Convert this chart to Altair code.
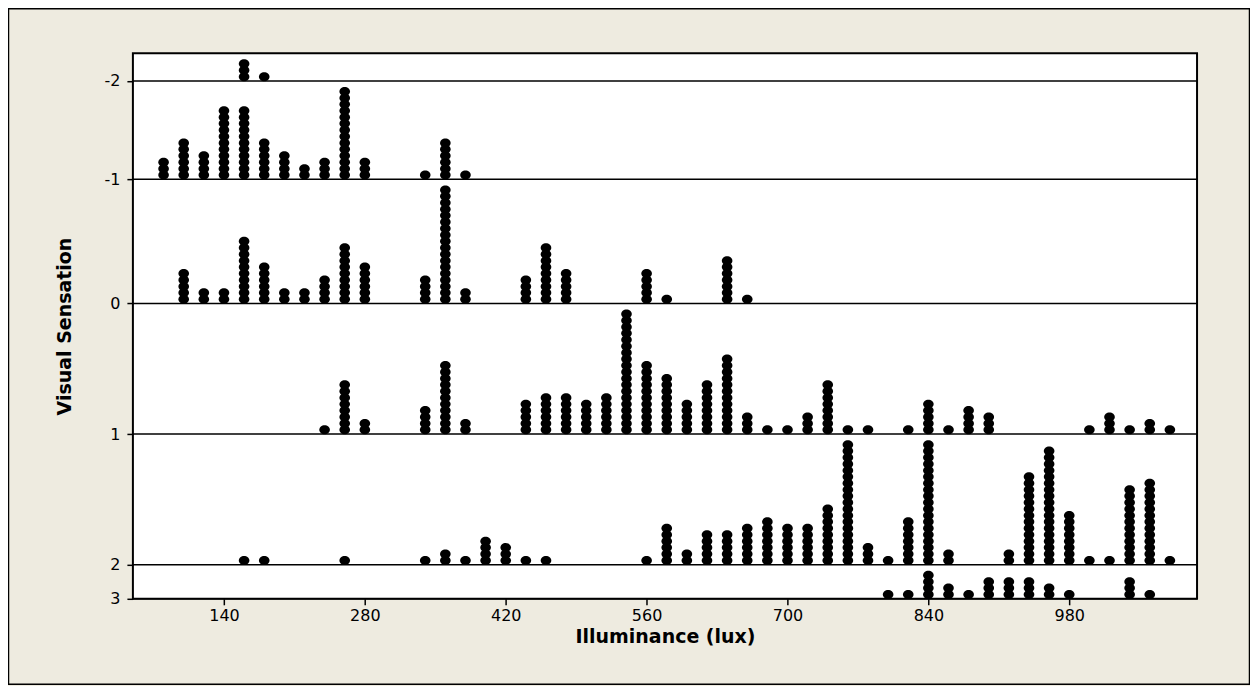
import altair as alt
import pandas as pd

# ---- data (dot counts per 20-lux bin, per sensation level) ----
levels = ["-2", "-1", "0", "1", "2", "3"]

lux_m2 = [160, 180]
cnt_m2 = [3, 1]

lux_m1 = [80, 100, 120, 140, 160, 180, 200, 220, 240, 260, 280, 340, 360, 380]
cnt_m1 = [3, 6, 4, 11, 11, 6, 4, 2, 3, 14, 3, 1, 6, 1]

lux_0 = [100, 120, 140, 160, 180, 200, 220, 240, 260, 280, 340, 360, 380, 440, 460, 480, 560, 580, 640, 660]
cnt_0 = [5, 2, 2, 10, 6, 2, 2, 4, 9, 6, 4, 18, 2, 4, 9, 5, 5, 1, 7, 1]

lux_1 = [240, 260, 280, 340, 360, 380, 440, 460, 480, 500, 520, 540, 560, 580, 600, 620, 640, 660, 680,
         700, 720, 740, 760, 780, 820, 840, 860, 880, 900, 1000, 1020, 1040, 1060, 1080]
cnt_1 = [1, 8, 2, 4, 11, 2, 5, 6, 6, 5, 6, 19, 11, 9, 5, 8, 12, 3, 1,
         1, 3, 8, 1, 1, 1, 5, 1, 4, 3, 1, 3, 1, 2, 1]

lux_2 = [160, 180, 260, 340, 360, 380, 400, 420, 440, 460, 560, 580, 600, 620, 640, 660, 680, 700, 720,
         740, 760, 780, 800, 820, 840, 860, 920, 940, 960, 980, 1000, 1020, 1040, 1060, 1080]
cnt_2 = [1, 1, 1, 1, 2, 1, 4, 3, 1, 1, 1, 6, 2, 5, 5, 6, 7, 6, 6,
         9, 19, 3, 1, 7, 19, 2, 2, 14, 18, 8, 1, 1, 12, 13, 1]

lux_3 = [800, 820, 840, 860, 880, 900, 920, 940, 960, 980, 1040, 1060]
cnt_3 = [1, 1, 4, 2, 1, 3, 3, 3, 2, 1, 3, 1]

x_ticks = [140, 280, 420, 560, 700, 840, 980]

series = {
    "-2": (lux_m2, cnt_m2),
    "-1": (lux_m1, cnt_m1),
    "0": (lux_0, cnt_0),
    "1": (lux_1, cnt_1),
    "2": (lux_2, cnt_2),
    "3": (lux_3, cnt_3),
}

# ---- stacked dot-plot layout: each level gets a band as tall as its largest stack ----
GAP = 1.3          # empty room above the tallest stack of a band (in dot units)
FIRST = 0.66       # centre of the first dot above its baseline (in dot units)
baseline = {}
acc = 0.0
for lv in reversed(levels):
    baseline[lv] = acc
    acc += max(series[lv][1]) + GAP
y_top = acc

rows = []
for lv in levels:
    for lux, n in zip(*series[lv]):
        for k in range(n):
            rows.append({"level": lv, "lux": lux, "pos": baseline[lv] + FIRST + k})
dots = pd.DataFrame(rows)
lines = pd.DataFrame({"level": levels, "pos": [baseline[lv] for lv in levels]})

# label expression for the y axis (baseline -> level name)
expr = "''"
for lv in levels:
    expr = f"abs(datum.value - {baseline[lv]:.4f}) < 0.01 ? '{lv}' : ({expr})"

W, H = 1065, 546
FONT = "DejaVu Sans"

xscale = alt.Scale(domain=[49.5, 1107], nice=False, zero=False)
yscale = alt.Scale(domain=[0, y_top], nice=False, zero=False)

ellipse = "M-1,0A1,0.85,0,1,1,1,0A1,0.85,0,1,1,-1,0Z"

dot_layer = alt.Chart(dots).mark_point(
    filled=True, shape=ellipse, size=112, color="black", opacity=1
).encode(
    x=alt.X("lux:Q", scale=xscale,
            axis=alt.Axis(values=x_ticks, title="Illuminance (lux)", grid=False,
                          tickSize=6, tickColor="black", tickWidth=1.5,
                          labelFontSize=16, labelFont=FONT, labelColor="black", labelPadding=3,
                          titleFontSize=19, titleFont=FONT, titleFontWeight="bold",
                          titleColor="black", titlePadding=4, domain=False)),
    y=alt.Y("pos:Q", scale=yscale,
            axis=alt.Axis(values=[baseline[lv] for lv in levels], labelExpr=expr,
                          title="Visual Sensation", grid=False,
                          tickSize=6, tickColor="black", tickWidth=1.5,
                          labelFontSize=16, labelFont=FONT, labelColor="black", labelPadding=7,
                          titleFontSize=19, titleFont=FONT, titleFontWeight="bold",
                          titleColor="black", titlePadding=29, domain=False)),
)

rule_layer = alt.Chart(lines).mark_rule(color="black", strokeWidth=1.5).encode(
    y=alt.Y("pos:Q", scale=yscale)
)

border = alt.Chart(pd.DataFrame({"a": [0]})).mark_rect(
    fill=None, stroke="black", strokeWidth=1.5
).encode(
    x=alt.value(-124.5), x2=alt.value(W + 52.5),
    y=alt.value(-44.5), y2=alt.value(H + 85.5)
)

chart = alt.layer(border, rule_layer, dot_layer).properties(
    width=W, height=H,
    autosize=alt.AutoSizeParams(type="none"),
    padding={"left": 125, "top": 45, "right": 53, "bottom": 87},
    background="#EEEBE0",
).configure_view(
    fill="white", stroke="black", strokeWidth=2
)

chart.save("out.html", embed_options={"renderer": "svg", "actions": False})
